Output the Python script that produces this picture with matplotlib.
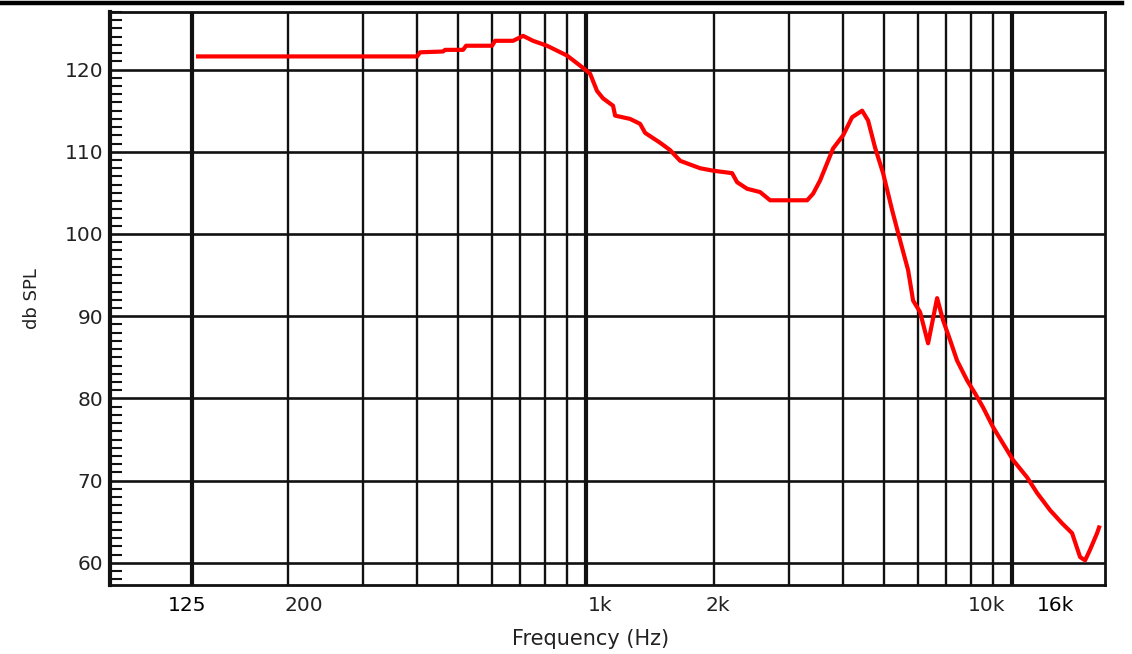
import numpy as np
import matplotlib
matplotlib.use("Agg")
import matplotlib.pyplot as plt
from matplotlib.ticker import MultipleLocator

# frequency response (Hz, dB SPL)
freq_hz = [122.8, 401.2, 407.7, 461.6, 466.7, 514.4, 522.8, 601.6, 611.5, 674.0,
           711.5, 750.6, 809.7, 902.4, 984, 1022, 1061, 1096, 1157, 1170,
           1268, 1339, 1376, 1492, 1575, 1663, 1852, 1987, 2202, 2262,
           2388, 2561, 2704, 3303, 3411, 3542, 3679, 3800, 4012, 4212,
           4446, 4592, 4769, 4980, 5229, 5460, 5701, 5857, 6082, 6351,
           6669, 6887, 7153, 7428, 7840, 8189, 8550, 9025, 9526, 10054,
           10844, 11446, 12281, 13106, 13834, 14442, 14839, 15245, 15831, 16003]
spl_db = [121.6, 121.6, 122.1, 122.2, 122.4, 122.4, 122.9, 122.9, 123.5, 123.5,
          124.1, 123.5, 122.9, 121.7, 120.2, 119.5, 117.4, 116.5, 115.6, 114.4,
          114.0, 113.4, 112.3, 111.1, 110.2, 108.9, 108.0, 107.7, 107.4, 106.3,
          105.5, 105.1, 104.1, 104.1, 104.9, 106.5, 108.6, 110.4, 112.0, 114.2,
          115.0, 113.8, 110.5, 107.4, 102.9, 99.2, 95.6, 91.9, 90.5, 86.7,
          92.2, 89.5, 87.1, 84.6, 82.2, 80.6, 78.9, 76.5, 74.5, 72.5,
          70.4, 68.5, 66.4, 64.8, 63.6, 60.7, 60.3, 61.6, 63.6, 64.3]

thin_grid_hz = [200, 300, 400, 500, 600, 700, 800, 900,
                2000, 3000, 4000, 5000, 6000, 7000, 8000, 9000]
thick_grid_hz = [119, 1000, 10000]
db_grid = [60, 70, 80, 90, 100, 110, 120]

tick_pos_hz = [115.7, 217.8, 1078, 2041, 8735, 12620]
tick_text = ["125", "200", "1k", "2k", "10k", "16k"]

fig = plt.figure(figsize=(11.32, 6.54), dpi=100)
ax = fig.add_axes([0.0972, 0.1055, 0.8790, 0.8761])

ax.set_xscale("log")
ax.set_xlim(76.3, 16530)
ax.set_ylim(57.3, 127.0)

for f in thin_grid_hz:
    ax.axvline(f, color="#111111", lw=1.7, zorder=1)
for f in thick_grid_hz:
    ax.axvline(f, color="#111111", lw=3.0, zorder=1)
for d in db_grid:
    ax.axhline(d, color="#111111", lw=1.9, zorder=1)

ax.plot(freq_hz, spl_db, color="#ff0000", lw=3.0, zorder=3, solid_joinstyle="round")

ax.set_xticks(tick_pos_hz)
ax.set_xticklabels(tick_text)
ax.xaxis.set_minor_locator(plt.NullLocator())
ax.tick_params(axis="x", length=0, pad=8, labelsize=14.5, labelcolor="#222222")
for lab in ax.get_xticklabels():
    if lab.get_text() in ("125", "16k"):
        lab.set_color("#000000")

ax.set_yticks(db_grid)
ax.yaxis.set_minor_locator(MultipleLocator(1))
ax.tick_params(axis="y", which="both", direction="in", length=8.5, width=1.5,
               color="#111111", labelsize=14.5, labelcolor="#222222", pad=5)
ax.tick_params(axis="y", which="major", length=0)
ax.tick_params(right=False, top=False)

for side in ["left", "bottom", "right", "top"]:
    ax.spines[side].set_color("#111111")
ax.spines["left"].set_linewidth(3.0)
ax.spines["bottom"].set_linewidth(2.0)
ax.spines["right"].set_linewidth(2.0)
ax.spines["top"].set_linewidth(2.0)

ax.set_xlabel("Frequency (Hz)", fontsize=15, color="#222222")
ax.xaxis.set_label_coords(0.483, -0.076)
ax.set_ylabel("db SPL", fontsize=13, color="#222222")
ax.yaxis.set_label_coords(-0.069, 0.5)

# heavy rule across the top of the image
fig.add_artist(plt.Line2D([0, 0.991], [0.9954, 0.9954], color="black", lw=3.2,
                          transform=fig.transFigure))

plt.savefig("out.png", dpi=100)
